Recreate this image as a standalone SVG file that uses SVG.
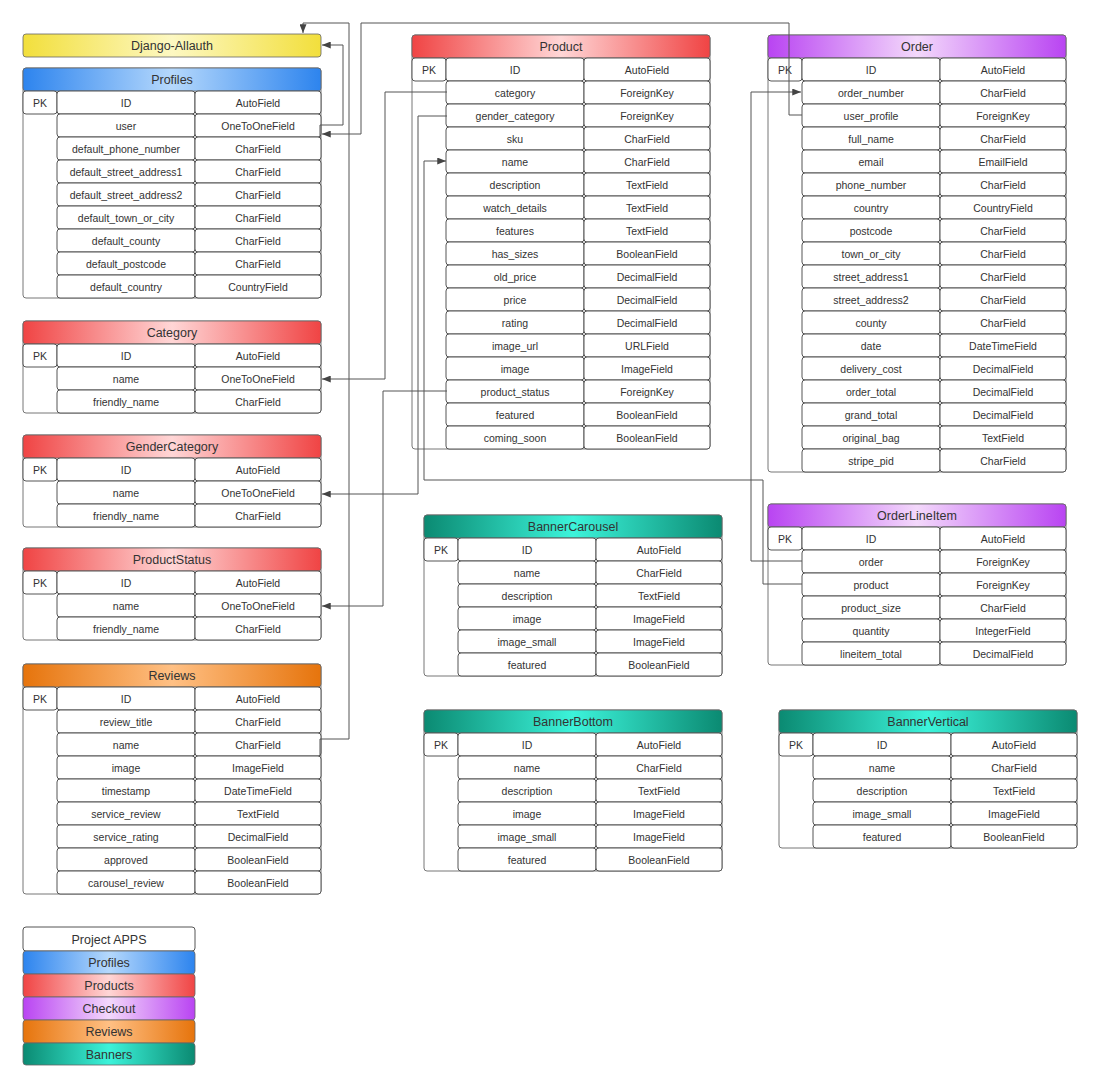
<svg xmlns="http://www.w3.org/2000/svg" width="1100" height="1089" viewBox="0 0 1100 1089">
<defs>
<linearGradient id="gY" x1="0" y1="0" x2="1" y2="0"><stop offset="0" stop-color="#f2df3c"/><stop offset="0.5" stop-color="#fdf8c2"/><stop offset="1" stop-color="#f2df3c"/></linearGradient>
<linearGradient id="gB" x1="0" y1="0" x2="1" y2="0"><stop offset="0" stop-color="#2d84ee"/><stop offset="0.5" stop-color="#b5d8fc"/><stop offset="1" stop-color="#2d84ee"/></linearGradient>
<linearGradient id="gR" x1="0" y1="0" x2="1" y2="0"><stop offset="0" stop-color="#f04444"/><stop offset="0.5" stop-color="#ffd6d6"/><stop offset="1" stop-color="#f04444"/></linearGradient>
<linearGradient id="gP" x1="0" y1="0" x2="1" y2="0"><stop offset="0" stop-color="#b944f2"/><stop offset="0.5" stop-color="#f3d8fb"/><stop offset="1" stop-color="#b944f2"/></linearGradient>
<linearGradient id="gO" x1="0" y1="0" x2="1" y2="0"><stop offset="0" stop-color="#e6740c"/><stop offset="0.5" stop-color="#ffc084"/><stop offset="1" stop-color="#e6740c"/></linearGradient>
<linearGradient id="gT" x1="0" y1="0" x2="1" y2="0"><stop offset="0" stop-color="#0b8a72"/><stop offset="0.5" stop-color="#3cf3da"/><stop offset="1" stop-color="#0b8a72"/></linearGradient>
<marker id="arr" viewBox="0 0 10 8" refX="10" refY="4" markerWidth="9" markerHeight="7" markerUnits="userSpaceOnUse" orient="auto"><path d="M0,0 L10,4 L0,8 z" fill="#444"/></marker>
</defs>
<style>
.box{fill:#fff;stroke:#777;stroke-width:1}
.hd{stroke:#666;stroke-width:0.8}
.c{fill:#fff;stroke:#555;stroke-width:1}
.t{font-family:"Liberation Sans",Arial,sans-serif;font-size:10.5px;fill:#333;text-anchor:middle}
.h{font-family:"Liberation Sans",Arial,sans-serif;font-size:12.5px;fill:#333;text-anchor:middle}
.ln{fill:none;stroke:#555;stroke-width:1;stroke-linejoin:round}
</style>
<rect width="1100" height="1089" fill="#fff"/>

<g id="django-allauth">
<rect x="23" y="34" width="298" height="23" rx="3" fill="url(#gY)" class="hd"/>
<text x="172" y="50" class="h">Django-Allauth</text>
</g>

<g id="profiles" transform="translate(23,68)">
<rect x="0" y="0" width="298" height="230" rx="3" class="box"/>
<rect x="0" y="0" width="298" height="23" rx="3" fill="url(#gB)" class="hd"/>
<text x="149" y="16" class="h">Profiles</text>
<rect x="0" y="23" width="34" height="23" rx="3" class="c"/><text x="17" y="38.5" class="t">PK</text>
<rect x="34" y="23" width="138" height="23" rx="3" class="c"/><rect x="172" y="23" width="126" height="23" rx="3" class="c"/>
<rect x="34" y="46" width="138" height="23" rx="3" class="c"/><rect x="172" y="46" width="126" height="23" rx="3" class="c"/>
<rect x="34" y="69" width="138" height="23" rx="3" class="c"/><rect x="172" y="69" width="126" height="23" rx="3" class="c"/>
<rect x="34" y="92" width="138" height="23" rx="3" class="c"/><rect x="172" y="92" width="126" height="23" rx="3" class="c"/>
<rect x="34" y="115" width="138" height="23" rx="3" class="c"/><rect x="172" y="115" width="126" height="23" rx="3" class="c"/>
<rect x="34" y="138" width="138" height="23" rx="3" class="c"/><rect x="172" y="138" width="126" height="23" rx="3" class="c"/>
<rect x="34" y="161" width="138" height="23" rx="3" class="c"/><rect x="172" y="161" width="126" height="23" rx="3" class="c"/>
<rect x="34" y="184" width="138" height="23" rx="3" class="c"/><rect x="172" y="184" width="126" height="23" rx="3" class="c"/>
<rect x="34" y="207" width="138" height="23" rx="3" class="c"/><rect x="172" y="207" width="126" height="23" rx="3" class="c"/>
<text x="103" y="38.5" class="t">ID</text><text x="235" y="38.5" class="t">AutoField</text>
<text x="103" y="61.5" class="t">user</text><text x="235" y="61.5" class="t">OneToOneField</text>
<text x="103" y="84.5" class="t">default_phone_number</text><text x="235" y="84.5" class="t">CharField</text>
<text x="103" y="107.5" class="t">default_street_address1</text><text x="235" y="107.5" class="t">CharField</text>
<text x="103" y="130.5" class="t">default_street_address2</text><text x="235" y="130.5" class="t">CharField</text>
<text x="103" y="153.5" class="t">default_town_or_city</text><text x="235" y="153.5" class="t">CharField</text>
<text x="103" y="176.5" class="t">default_county</text><text x="235" y="176.5" class="t">CharField</text>
<text x="103" y="199.5" class="t">default_postcode</text><text x="235" y="199.5" class="t">CharField</text>
<text x="103" y="222.5" class="t">default_country</text><text x="235" y="222.5" class="t">CountryField</text>
</g>

<g id="category" transform="translate(23,321)">
<rect x="0" y="0" width="298" height="92" rx="3" class="box"/>
<rect x="0" y="0" width="298" height="23" rx="3" fill="url(#gR)" class="hd"/>
<text x="149" y="16" class="h">Category</text>
<rect x="0" y="23" width="34" height="23" rx="3" class="c"/><text x="17" y="38.5" class="t">PK</text>
<rect x="34" y="23" width="138" height="23" rx="3" class="c"/><rect x="172" y="23" width="126" height="23" rx="3" class="c"/>
<rect x="34" y="46" width="138" height="23" rx="3" class="c"/><rect x="172" y="46" width="126" height="23" rx="3" class="c"/>
<rect x="34" y="69" width="138" height="23" rx="3" class="c"/><rect x="172" y="69" width="126" height="23" rx="3" class="c"/>
<text x="103" y="38.5" class="t">ID</text><text x="235" y="38.5" class="t">AutoField</text>
<text x="103" y="61.5" class="t">name</text><text x="235" y="61.5" class="t">OneToOneField</text>
<text x="103" y="84.5" class="t">friendly_name</text><text x="235" y="84.5" class="t">CharField</text>
</g>

<g id="gendercategory" transform="translate(23,435)">
<rect x="0" y="0" width="298" height="92" rx="3" class="box"/>
<rect x="0" y="0" width="298" height="23" rx="3" fill="url(#gR)" class="hd"/>
<text x="149" y="16" class="h">GenderCategory</text>
<rect x="0" y="23" width="34" height="23" rx="3" class="c"/><text x="17" y="38.5" class="t">PK</text>
<rect x="34" y="23" width="138" height="23" rx="3" class="c"/><rect x="172" y="23" width="126" height="23" rx="3" class="c"/>
<rect x="34" y="46" width="138" height="23" rx="3" class="c"/><rect x="172" y="46" width="126" height="23" rx="3" class="c"/>
<rect x="34" y="69" width="138" height="23" rx="3" class="c"/><rect x="172" y="69" width="126" height="23" rx="3" class="c"/>
<text x="103" y="38.5" class="t">ID</text><text x="235" y="38.5" class="t">AutoField</text>
<text x="103" y="61.5" class="t">name</text><text x="235" y="61.5" class="t">OneToOneField</text>
<text x="103" y="84.5" class="t">friendly_name</text><text x="235" y="84.5" class="t">CharField</text>
</g>

<g id="productstatus" transform="translate(23,548)">
<rect x="0" y="0" width="298" height="92" rx="3" class="box"/>
<rect x="0" y="0" width="298" height="23" rx="3" fill="url(#gR)" class="hd"/>
<text x="149" y="16" class="h">ProductStatus</text>
<rect x="0" y="23" width="34" height="23" rx="3" class="c"/><text x="17" y="38.5" class="t">PK</text>
<rect x="34" y="23" width="138" height="23" rx="3" class="c"/><rect x="172" y="23" width="126" height="23" rx="3" class="c"/>
<rect x="34" y="46" width="138" height="23" rx="3" class="c"/><rect x="172" y="46" width="126" height="23" rx="3" class="c"/>
<rect x="34" y="69" width="138" height="23" rx="3" class="c"/><rect x="172" y="69" width="126" height="23" rx="3" class="c"/>
<text x="103" y="38.5" class="t">ID</text><text x="235" y="38.5" class="t">AutoField</text>
<text x="103" y="61.5" class="t">name</text><text x="235" y="61.5" class="t">OneToOneField</text>
<text x="103" y="84.5" class="t">friendly_name</text><text x="235" y="84.5" class="t">CharField</text>
</g>

<g id="reviews" transform="translate(23,664)">
<rect x="0" y="0" width="298" height="230" rx="3" class="box"/>
<rect x="0" y="0" width="298" height="23" rx="3" fill="url(#gO)" class="hd"/>
<text x="149" y="16" class="h">Reviews</text>
<rect x="0" y="23" width="34" height="23" rx="3" class="c"/><text x="17" y="38.5" class="t">PK</text>
<rect x="34" y="23" width="138" height="23" rx="3" class="c"/><rect x="172" y="23" width="126" height="23" rx="3" class="c"/>
<rect x="34" y="46" width="138" height="23" rx="3" class="c"/><rect x="172" y="46" width="126" height="23" rx="3" class="c"/>
<rect x="34" y="69" width="138" height="23" rx="3" class="c"/><rect x="172" y="69" width="126" height="23" rx="3" class="c"/>
<rect x="34" y="92" width="138" height="23" rx="3" class="c"/><rect x="172" y="92" width="126" height="23" rx="3" class="c"/>
<rect x="34" y="115" width="138" height="23" rx="3" class="c"/><rect x="172" y="115" width="126" height="23" rx="3" class="c"/>
<rect x="34" y="138" width="138" height="23" rx="3" class="c"/><rect x="172" y="138" width="126" height="23" rx="3" class="c"/>
<rect x="34" y="161" width="138" height="23" rx="3" class="c"/><rect x="172" y="161" width="126" height="23" rx="3" class="c"/>
<rect x="34" y="184" width="138" height="23" rx="3" class="c"/><rect x="172" y="184" width="126" height="23" rx="3" class="c"/>
<rect x="34" y="207" width="138" height="23" rx="3" class="c"/><rect x="172" y="207" width="126" height="23" rx="3" class="c"/>
<text x="103" y="38.5" class="t">ID</text><text x="235" y="38.5" class="t">AutoField</text>
<text x="103" y="61.5" class="t">review_title</text><text x="235" y="61.5" class="t">CharField</text>
<text x="103" y="84.5" class="t">name</text><text x="235" y="84.5" class="t">CharField</text>
<text x="103" y="107.5" class="t">image</text><text x="235" y="107.5" class="t">ImageField</text>
<text x="103" y="130.5" class="t">timestamp</text><text x="235" y="130.5" class="t">DateTimeField</text>
<text x="103" y="153.5" class="t">service_review</text><text x="235" y="153.5" class="t">TextField</text>
<text x="103" y="176.5" class="t">service_rating</text><text x="235" y="176.5" class="t">DecimalField</text>
<text x="103" y="199.5" class="t">approved</text><text x="235" y="199.5" class="t">BooleanField</text>
<text x="103" y="222.5" class="t">carousel_review</text><text x="235" y="222.5" class="t">BooleanField</text>
</g>

<g id="product" transform="translate(412,35)">
<rect x="0" y="0" width="298" height="414" rx="3" class="box"/>
<rect x="0" y="0" width="298" height="23" rx="3" fill="url(#gR)" class="hd"/>
<text x="149" y="16" class="h">Product</text>
<rect x="0" y="23" width="34" height="23" rx="3" class="c"/><text x="17" y="38.5" class="t">PK</text>
<rect x="34" y="23" width="138" height="23" rx="3" class="c"/><rect x="172" y="23" width="126" height="23" rx="3" class="c"/>
<rect x="34" y="46" width="138" height="23" rx="3" class="c"/><rect x="172" y="46" width="126" height="23" rx="3" class="c"/>
<rect x="34" y="69" width="138" height="23" rx="3" class="c"/><rect x="172" y="69" width="126" height="23" rx="3" class="c"/>
<rect x="34" y="92" width="138" height="23" rx="3" class="c"/><rect x="172" y="92" width="126" height="23" rx="3" class="c"/>
<rect x="34" y="115" width="138" height="23" rx="3" class="c"/><rect x="172" y="115" width="126" height="23" rx="3" class="c"/>
<rect x="34" y="138" width="138" height="23" rx="3" class="c"/><rect x="172" y="138" width="126" height="23" rx="3" class="c"/>
<rect x="34" y="161" width="138" height="23" rx="3" class="c"/><rect x="172" y="161" width="126" height="23" rx="3" class="c"/>
<rect x="34" y="184" width="138" height="23" rx="3" class="c"/><rect x="172" y="184" width="126" height="23" rx="3" class="c"/>
<rect x="34" y="207" width="138" height="23" rx="3" class="c"/><rect x="172" y="207" width="126" height="23" rx="3" class="c"/>
<rect x="34" y="230" width="138" height="23" rx="3" class="c"/><rect x="172" y="230" width="126" height="23" rx="3" class="c"/>
<rect x="34" y="253" width="138" height="23" rx="3" class="c"/><rect x="172" y="253" width="126" height="23" rx="3" class="c"/>
<rect x="34" y="276" width="138" height="23" rx="3" class="c"/><rect x="172" y="276" width="126" height="23" rx="3" class="c"/>
<rect x="34" y="299" width="138" height="23" rx="3" class="c"/><rect x="172" y="299" width="126" height="23" rx="3" class="c"/>
<rect x="34" y="322" width="138" height="23" rx="3" class="c"/><rect x="172" y="322" width="126" height="23" rx="3" class="c"/>
<rect x="34" y="345" width="138" height="23" rx="3" class="c"/><rect x="172" y="345" width="126" height="23" rx="3" class="c"/>
<rect x="34" y="368" width="138" height="23" rx="3" class="c"/><rect x="172" y="368" width="126" height="23" rx="3" class="c"/>
<rect x="34" y="391" width="138" height="23" rx="3" class="c"/><rect x="172" y="391" width="126" height="23" rx="3" class="c"/>
<text x="103" y="38.5" class="t">ID</text><text x="235" y="38.5" class="t">AutoField</text>
<text x="103" y="61.5" class="t">category</text><text x="235" y="61.5" class="t">ForeignKey</text>
<text x="103" y="84.5" class="t">gender_category</text><text x="235" y="84.5" class="t">ForeignKey</text>
<text x="103" y="107.5" class="t">sku</text><text x="235" y="107.5" class="t">CharField</text>
<text x="103" y="130.5" class="t">name</text><text x="235" y="130.5" class="t">CharField</text>
<text x="103" y="153.5" class="t">description</text><text x="235" y="153.5" class="t">TextField</text>
<text x="103" y="176.5" class="t">watch_details</text><text x="235" y="176.5" class="t">TextField</text>
<text x="103" y="199.5" class="t">features</text><text x="235" y="199.5" class="t">TextField</text>
<text x="103" y="222.5" class="t">has_sizes</text><text x="235" y="222.5" class="t">BooleanField</text>
<text x="103" y="245.5" class="t">old_price</text><text x="235" y="245.5" class="t">DecimalField</text>
<text x="103" y="268.5" class="t">price</text><text x="235" y="268.5" class="t">DecimalField</text>
<text x="103" y="291.5" class="t">rating</text><text x="235" y="291.5" class="t">DecimalField</text>
<text x="103" y="314.5" class="t">image_url</text><text x="235" y="314.5" class="t">URLField</text>
<text x="103" y="337.5" class="t">image</text><text x="235" y="337.5" class="t">ImageField</text>
<text x="103" y="360.5" class="t">product_status</text><text x="235" y="360.5" class="t">ForeignKey</text>
<text x="103" y="383.5" class="t">featured</text><text x="235" y="383.5" class="t">BooleanField</text>
<text x="103" y="406.5" class="t">coming_soon</text><text x="235" y="406.5" class="t">BooleanField</text>
</g>

<g id="order" transform="translate(768,35)">
<rect x="0" y="0" width="298" height="437" rx="3" class="box"/>
<rect x="0" y="0" width="298" height="23" rx="3" fill="url(#gP)" class="hd"/>
<text x="149" y="16" class="h">Order</text>
<rect x="0" y="23" width="34" height="23" rx="3" class="c"/><text x="17" y="38.5" class="t">PK</text>
<rect x="34" y="23" width="138" height="23" rx="3" class="c"/><rect x="172" y="23" width="126" height="23" rx="3" class="c"/>
<rect x="34" y="46" width="138" height="23" rx="3" class="c"/><rect x="172" y="46" width="126" height="23" rx="3" class="c"/>
<rect x="34" y="69" width="138" height="23" rx="3" class="c"/><rect x="172" y="69" width="126" height="23" rx="3" class="c"/>
<rect x="34" y="92" width="138" height="23" rx="3" class="c"/><rect x="172" y="92" width="126" height="23" rx="3" class="c"/>
<rect x="34" y="115" width="138" height="23" rx="3" class="c"/><rect x="172" y="115" width="126" height="23" rx="3" class="c"/>
<rect x="34" y="138" width="138" height="23" rx="3" class="c"/><rect x="172" y="138" width="126" height="23" rx="3" class="c"/>
<rect x="34" y="161" width="138" height="23" rx="3" class="c"/><rect x="172" y="161" width="126" height="23" rx="3" class="c"/>
<rect x="34" y="184" width="138" height="23" rx="3" class="c"/><rect x="172" y="184" width="126" height="23" rx="3" class="c"/>
<rect x="34" y="207" width="138" height="23" rx="3" class="c"/><rect x="172" y="207" width="126" height="23" rx="3" class="c"/>
<rect x="34" y="230" width="138" height="23" rx="3" class="c"/><rect x="172" y="230" width="126" height="23" rx="3" class="c"/>
<rect x="34" y="253" width="138" height="23" rx="3" class="c"/><rect x="172" y="253" width="126" height="23" rx="3" class="c"/>
<rect x="34" y="276" width="138" height="23" rx="3" class="c"/><rect x="172" y="276" width="126" height="23" rx="3" class="c"/>
<rect x="34" y="299" width="138" height="23" rx="3" class="c"/><rect x="172" y="299" width="126" height="23" rx="3" class="c"/>
<rect x="34" y="322" width="138" height="23" rx="3" class="c"/><rect x="172" y="322" width="126" height="23" rx="3" class="c"/>
<rect x="34" y="345" width="138" height="23" rx="3" class="c"/><rect x="172" y="345" width="126" height="23" rx="3" class="c"/>
<rect x="34" y="368" width="138" height="23" rx="3" class="c"/><rect x="172" y="368" width="126" height="23" rx="3" class="c"/>
<rect x="34" y="391" width="138" height="23" rx="3" class="c"/><rect x="172" y="391" width="126" height="23" rx="3" class="c"/>
<rect x="34" y="414" width="138" height="23" rx="3" class="c"/><rect x="172" y="414" width="126" height="23" rx="3" class="c"/>
<text x="103" y="38.5" class="t">ID</text><text x="235" y="38.5" class="t">AutoField</text>
<text x="103" y="61.5" class="t">order_number</text><text x="235" y="61.5" class="t">CharField</text>
<text x="103" y="84.5" class="t">user_profile</text><text x="235" y="84.5" class="t">ForeignKey</text>
<text x="103" y="107.5" class="t">full_name</text><text x="235" y="107.5" class="t">CharField</text>
<text x="103" y="130.5" class="t">email</text><text x="235" y="130.5" class="t">EmailField</text>
<text x="103" y="153.5" class="t">phone_number</text><text x="235" y="153.5" class="t">CharField</text>
<text x="103" y="176.5" class="t">country</text><text x="235" y="176.5" class="t">CountryField</text>
<text x="103" y="199.5" class="t">postcode</text><text x="235" y="199.5" class="t">CharField</text>
<text x="103" y="222.5" class="t">town_or_city</text><text x="235" y="222.5" class="t">CharField</text>
<text x="103" y="245.5" class="t">street_address1</text><text x="235" y="245.5" class="t">CharField</text>
<text x="103" y="268.5" class="t">street_address2</text><text x="235" y="268.5" class="t">CharField</text>
<text x="103" y="291.5" class="t">county</text><text x="235" y="291.5" class="t">CharField</text>
<text x="103" y="314.5" class="t">date</text><text x="235" y="314.5" class="t">DateTimeField</text>
<text x="103" y="337.5" class="t">delivery_cost</text><text x="235" y="337.5" class="t">DecimalField</text>
<text x="103" y="360.5" class="t">order_total</text><text x="235" y="360.5" class="t">DecimalField</text>
<text x="103" y="383.5" class="t">grand_total</text><text x="235" y="383.5" class="t">DecimalField</text>
<text x="103" y="406.5" class="t">original_bag</text><text x="235" y="406.5" class="t">TextField</text>
<text x="103" y="429.5" class="t">stripe_pid</text><text x="235" y="429.5" class="t">CharField</text>
</g>

<g id="orderlineitem" transform="translate(768,504)">
<rect x="0" y="0" width="298" height="161" rx="3" class="box"/>
<rect x="0" y="0" width="298" height="23" rx="3" fill="url(#gP)" class="hd"/>
<text x="149" y="16" class="h">OrderLineItem</text>
<rect x="0" y="23" width="34" height="23" rx="3" class="c"/><text x="17" y="38.5" class="t">PK</text>
<rect x="34" y="23" width="138" height="23" rx="3" class="c"/><rect x="172" y="23" width="126" height="23" rx="3" class="c"/>
<rect x="34" y="46" width="138" height="23" rx="3" class="c"/><rect x="172" y="46" width="126" height="23" rx="3" class="c"/>
<rect x="34" y="69" width="138" height="23" rx="3" class="c"/><rect x="172" y="69" width="126" height="23" rx="3" class="c"/>
<rect x="34" y="92" width="138" height="23" rx="3" class="c"/><rect x="172" y="92" width="126" height="23" rx="3" class="c"/>
<rect x="34" y="115" width="138" height="23" rx="3" class="c"/><rect x="172" y="115" width="126" height="23" rx="3" class="c"/>
<rect x="34" y="138" width="138" height="23" rx="3" class="c"/><rect x="172" y="138" width="126" height="23" rx="3" class="c"/>
<text x="103" y="38.5" class="t">ID</text><text x="235" y="38.5" class="t">AutoField</text>
<text x="103" y="61.5" class="t">order</text><text x="235" y="61.5" class="t">ForeignKey</text>
<text x="103" y="84.5" class="t">product</text><text x="235" y="84.5" class="t">ForeignKey</text>
<text x="103" y="107.5" class="t">product_size</text><text x="235" y="107.5" class="t">CharField</text>
<text x="103" y="130.5" class="t">quantity</text><text x="235" y="130.5" class="t">IntegerField</text>
<text x="103" y="153.5" class="t">lineitem_total</text><text x="235" y="153.5" class="t">DecimalField</text>
</g>

<g id="bannercarousel" transform="translate(424,515)">
<rect x="0" y="0" width="298" height="161" rx="3" class="box"/>
<rect x="0" y="0" width="298" height="23" rx="3" fill="url(#gT)" class="hd"/>
<text x="149" y="16" class="h">BannerCarousel</text>
<rect x="0" y="23" width="34" height="23" rx="3" class="c"/><text x="17" y="38.5" class="t">PK</text>
<rect x="34" y="23" width="138" height="23" rx="3" class="c"/><rect x="172" y="23" width="126" height="23" rx="3" class="c"/>
<rect x="34" y="46" width="138" height="23" rx="3" class="c"/><rect x="172" y="46" width="126" height="23" rx="3" class="c"/>
<rect x="34" y="69" width="138" height="23" rx="3" class="c"/><rect x="172" y="69" width="126" height="23" rx="3" class="c"/>
<rect x="34" y="92" width="138" height="23" rx="3" class="c"/><rect x="172" y="92" width="126" height="23" rx="3" class="c"/>
<rect x="34" y="115" width="138" height="23" rx="3" class="c"/><rect x="172" y="115" width="126" height="23" rx="3" class="c"/>
<rect x="34" y="138" width="138" height="23" rx="3" class="c"/><rect x="172" y="138" width="126" height="23" rx="3" class="c"/>
<text x="103" y="38.5" class="t">ID</text><text x="235" y="38.5" class="t">AutoField</text>
<text x="103" y="61.5" class="t">name</text><text x="235" y="61.5" class="t">CharField</text>
<text x="103" y="84.5" class="t">description</text><text x="235" y="84.5" class="t">TextField</text>
<text x="103" y="107.5" class="t">image</text><text x="235" y="107.5" class="t">ImageField</text>
<text x="103" y="130.5" class="t">image_small</text><text x="235" y="130.5" class="t">ImageField</text>
<text x="103" y="153.5" class="t">featured</text><text x="235" y="153.5" class="t">BooleanField</text>
</g>

<g id="bannerbottom" transform="translate(424,710)">
<rect x="0" y="0" width="298" height="161" rx="3" class="box"/>
<rect x="0" y="0" width="298" height="23" rx="3" fill="url(#gT)" class="hd"/>
<text x="149" y="16" class="h">BannerBottom</text>
<rect x="0" y="23" width="34" height="23" rx="3" class="c"/><text x="17" y="38.5" class="t">PK</text>
<rect x="34" y="23" width="138" height="23" rx="3" class="c"/><rect x="172" y="23" width="126" height="23" rx="3" class="c"/>
<rect x="34" y="46" width="138" height="23" rx="3" class="c"/><rect x="172" y="46" width="126" height="23" rx="3" class="c"/>
<rect x="34" y="69" width="138" height="23" rx="3" class="c"/><rect x="172" y="69" width="126" height="23" rx="3" class="c"/>
<rect x="34" y="92" width="138" height="23" rx="3" class="c"/><rect x="172" y="92" width="126" height="23" rx="3" class="c"/>
<rect x="34" y="115" width="138" height="23" rx="3" class="c"/><rect x="172" y="115" width="126" height="23" rx="3" class="c"/>
<rect x="34" y="138" width="138" height="23" rx="3" class="c"/><rect x="172" y="138" width="126" height="23" rx="3" class="c"/>
<text x="103" y="38.5" class="t">ID</text><text x="235" y="38.5" class="t">AutoField</text>
<text x="103" y="61.5" class="t">name</text><text x="235" y="61.5" class="t">CharField</text>
<text x="103" y="84.5" class="t">description</text><text x="235" y="84.5" class="t">TextField</text>
<text x="103" y="107.5" class="t">image</text><text x="235" y="107.5" class="t">ImageField</text>
<text x="103" y="130.5" class="t">image_small</text><text x="235" y="130.5" class="t">ImageField</text>
<text x="103" y="153.5" class="t">featured</text><text x="235" y="153.5" class="t">BooleanField</text>
</g>

<g id="bannervertical" transform="translate(779,710)">
<rect x="0" y="0" width="298" height="138" rx="3" class="box"/>
<rect x="0" y="0" width="298" height="23" rx="3" fill="url(#gT)" class="hd"/>
<text x="149" y="16" class="h">BannerVertical</text>
<rect x="0" y="23" width="34" height="23" rx="3" class="c"/><text x="17" y="38.5" class="t">PK</text>
<rect x="34" y="23" width="138" height="23" rx="3" class="c"/><rect x="172" y="23" width="126" height="23" rx="3" class="c"/>
<rect x="34" y="46" width="138" height="23" rx="3" class="c"/><rect x="172" y="46" width="126" height="23" rx="3" class="c"/>
<rect x="34" y="69" width="138" height="23" rx="3" class="c"/><rect x="172" y="69" width="126" height="23" rx="3" class="c"/>
<rect x="34" y="92" width="138" height="23" rx="3" class="c"/><rect x="172" y="92" width="126" height="23" rx="3" class="c"/>
<rect x="34" y="115" width="138" height="23" rx="3" class="c"/><rect x="172" y="115" width="126" height="23" rx="3" class="c"/>
<text x="103" y="38.5" class="t">ID</text><text x="235" y="38.5" class="t">AutoField</text>
<text x="103" y="61.5" class="t">name</text><text x="235" y="61.5" class="t">CharField</text>
<text x="103" y="84.5" class="t">description</text><text x="235" y="84.5" class="t">TextField</text>
<text x="103" y="107.5" class="t">image_small</text><text x="235" y="107.5" class="t">ImageField</text>
<text x="103" y="130.5" class="t">featured</text><text x="235" y="130.5" class="t">BooleanField</text>
</g>

<g id="legend" transform="translate(23,927)">
<rect x="0" y="0" width="172" height="24" rx="3" class="c"/>
<text x="86" y="17" class="h">Project APPS</text>
<rect x="0" y="24" width="172" height="23" rx="3" fill="url(#gB)" class="hd"/>
<text x="86" y="40" class="h">Profiles</text>
<rect x="0" y="47" width="172" height="23" rx="3" fill="url(#gR)" class="hd"/>
<text x="86" y="63" class="h">Products</text>
<rect x="0" y="70" width="172" height="23" rx="3" fill="url(#gP)" class="hd"/>
<text x="86" y="86" class="h">Checkout</text>
<rect x="0" y="93" width="172" height="23" rx="3" fill="url(#gO)" class="hd"/>
<text x="86" y="109" class="h">Reviews</text>
<rect x="0" y="116" width="172" height="22" rx="3" fill="url(#gT)" class="hd"/>
<text x="86" y="131.5" class="h">Banners</text>
</g>

<g id="connectors">
<path class="ln" d="M320 756 L320 739 L349 739 L349 23 L303 23 L303 33" marker-end="url(#arr)"/>
<path class="ln" d="M320 138 L320 125 L343 125 L343 45 L322 45" marker-end="url(#arr)"/>
<path class="ln" d="M802 115 L789 115 L789 23 L361 23 L361 134 L322 134" marker-end="url(#arr)"/>
<path class="ln" d="M447 92 L385 92 L385 379 L322 379" marker-end="url(#arr)"/>
<path class="ln" d="M447 116 L418 116 L418 494 L322 494" marker-end="url(#arr)"/>
<path class="ln" d="M447 391 L383 391 L383 606 L322 606" marker-end="url(#arr)"/>
<path class="ln" d="M802 584 L763 584 L763 480 L424 480 L424 161 L446 161" marker-end="url(#arr)"/>
<path class="ln" d="M802 561 L751 561 L751 92 L801 92" marker-end="url(#arr)"/>
</g>
</svg>
